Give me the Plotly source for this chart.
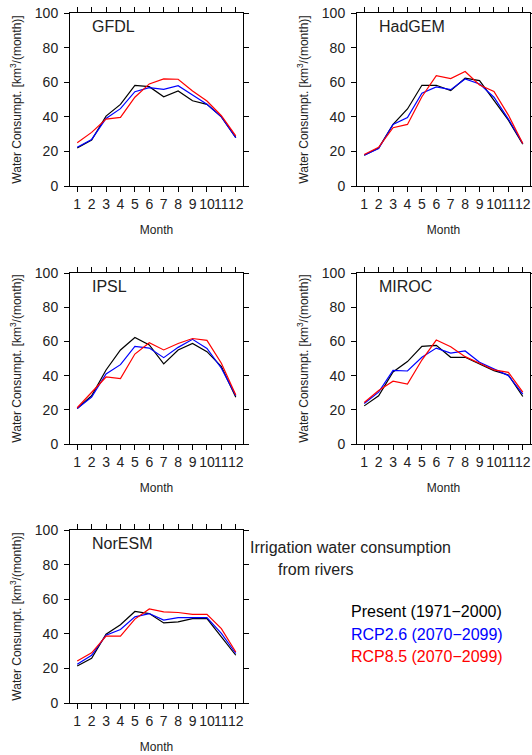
import plotly.graph_objects as go

# Monthly irrigation water consumption from rivers [km3/month]
months = list(range(1, 13))
models = ['GFDL', 'HadGEM', 'IPSL', 'MIROC', 'NorESM']

gfdl_present = [22.0, 26.5, 40.4, 47.2, 58.2, 57.4, 51.6, 54.9, 49.3, 47.2, 40.0, 28.0]
gfdl_rcp26 = [22.4, 26.9, 39.0, 44.7, 54.5, 56.9, 55.9, 58.0, 52.6, 47.2, 40.0, 27.9]
gfdl_rcp85 = [25.0, 31.0, 38.7, 39.7, 51.3, 59.0, 61.9, 61.7, 54.9, 49.1, 40.6, 29.0]

hadgem_present = [17.8, 22.0, 35.6, 44.5, 58.2, 58.2, 55.1, 62.3, 60.9, 49.3, 38.1, 24.2]
hadgem_rcp26 = [17.8, 21.7, 35.6, 39.5, 53.6, 57.3, 55.7, 61.9, 59.0, 51.3, 38.7, 24.6]
hadgem_rcp85 = [18.2, 22.4, 33.7, 35.6, 51.6, 63.8, 62.1, 66.2, 58.4, 54.7, 41.0, 24.6]

ipsl_present = [20.8, 28.2, 43.3, 55.0, 62.3, 57.9, 46.8, 55.0, 58.8, 54.0, 45.2, 27.4]
ipsl_rcp26 = [20.8, 27.4, 41.0, 46.4, 57.1, 56.1, 50.5, 56.5, 61.2, 55.9, 44.3, 28.2]
ipsl_rcp85 = [21.2, 30.1, 39.2, 38.3, 52.6, 59.2, 55.0, 58.8, 61.7, 60.6, 47.2, 28.7]

miroc_present = [22.3, 28.2, 42.1, 48.2, 57.1, 57.7, 50.7, 50.7, 46.8, 42.9, 40.4, 27.8]
miroc_rcp26 = [23.7, 30.3, 43.1, 42.7, 50.7, 56.1, 53.2, 54.4, 47.8, 43.9, 40.0, 29.1]
miroc_rcp85 = [24.3, 31.3, 36.7, 35.1, 49.1, 60.8, 56.9, 51.1, 47.2, 43.3, 41.9, 30.3]

noresm_present = [21.4, 25.9, 39.8, 45.2, 52.9, 51.7, 46.3, 46.9, 48.8, 48.8, 38.2, 27.6]
noresm_rcp26 = [22.4, 27.6, 39.2, 42.5, 49.8, 51.7, 47.9, 49.4, 49.4, 49.4, 40.2, 28.6]
noresm_rcp85 = [24.3, 29.0, 38.6, 38.6, 48.5, 54.4, 52.7, 52.3, 51.2, 51.2, 43.0, 29.5]

series = {
    'GFDL': (gfdl_present, gfdl_rcp26, gfdl_rcp85),
    'HadGEM': (hadgem_present, hadgem_rcp26, hadgem_rcp85),
    'IPSL': (ipsl_present, ipsl_rcp26, ipsl_rcp85),
    'MIROC': (miroc_present, miroc_rcp26, miroc_rcp85),
    'NorESM': (noresm_present, noresm_rcp26, noresm_rcp85),
}
colors = ['black', 'blue', 'red']
legend_labels = ['Present (1971\u22122000)', 'RCP2.6 (2070\u22122099)', 'RCP8.5 (2070\u22122099)']

W, H = 532, 755
FONT = 'Liberation Sans, Arial, sans-serif'

# panel frames in pixels (left, right) and (top, bottom)
cols_px = [(70, 243), (357, 530)]
rows_px = [(13, 186), (273, 444), (530, 703)]

fig = go.Figure()
annotations = []

for i, name in enumerate(models):
    row, col = divmod(i, 2)
    ax = '' if i == 0 else str(i + 1)
    for vals, c in zip(series[name], colors):
        fig.add_trace(go.Scatter(x=months, y=vals, mode='lines',
                                 line=dict(color=c, width=1.2),
                                 xaxis='x' + ax, yaxis='y' + ax,
                                 showlegend=False))
    x0, x1 = cols_px[col]
    t, b = rows_px[row]
    common = dict(showline=True, linecolor='black', linewidth=1, mirror='ticks',
                  ticks='outside', ticklen=5, tickcolor='black', showgrid=False,
                  zeroline=False, automargin=False, tickangle=0,
                  tickfont=dict(size=14, color='#222'))
    fig.update_layout({
        'xaxis' + ax: dict(domain=[x0 / W, x1 / W], anchor='y' + ax,
                           range=[0.5, 12.5], tickvals=months,
                           title=dict(text='Month', font=dict(size=12, color='#222'), standoff=14),
                           **common),
        'yaxis' + ax: dict(domain=[1 - b / H, 1 - t / H], anchor='x' + ax,
                           range=[0, 100], dtick=20, ticklabelstandoff=3,
                           title=dict(text='Water Consumpt. [km<sup>3</sup>/(month)]',
                                      font=dict(size=12, color='#222'), standoff=10),
                           **common),
    })
    annotations.append(dict(text=name, xref='paper', yref='paper',
                            x=(x0 + 20) / W, y=1 - (t + 13) / H,
                            xanchor='left', yanchor='middle', showarrow=False,
                            font=dict(size=16, color='#222')))

# legend-like text block
annotations.append(dict(text='Irrigation water consumption', xref='paper', yref='paper',
                        x=248 / W, y=1 - 547 / H, xanchor='left', yanchor='middle',
                        showarrow=False, font=dict(size=16, color='#222')))
annotations.append(dict(text='from rivers', xref='paper', yref='paper',
                        x=276 / W, y=1 - 569 / H, xanchor='left', yanchor='middle',
                        showarrow=False, font=dict(size=16, color='#222')))
for lbl, c, yy in zip(legend_labels, colors, [611, 634, 656]):
    annotations.append(dict(text=lbl, xref='paper', yref='paper',
                            x=349 / W, y=1 - yy / H, xanchor='left', yanchor='middle',
                            showarrow=False, font=dict(size=16, color=c)))

fig.update_layout(width=W, height=H, margin=dict(l=0, r=0, t=0, b=0),
                  paper_bgcolor='white', plot_bgcolor='white',
                  font=dict(family=FONT, color='#222'),
                  annotations=annotations)

# drop the browser's default page margin so the figure sits at (0, 0)
fig.write_html("out.html", config={'displayModeBar': False},
               post_script="document.body.style.margin='0';")
